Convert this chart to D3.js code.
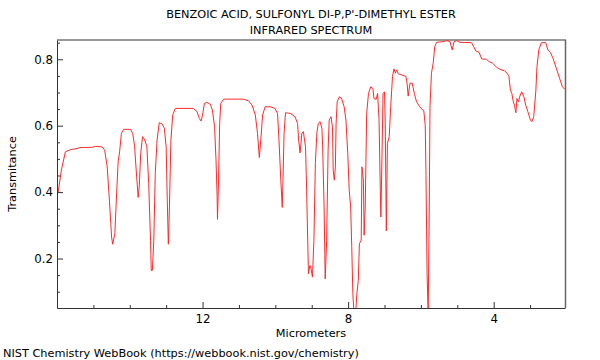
<!DOCTYPE html>
<html><head><meta charset="utf-8">
<script src="https://cdn.jsdelivr.net/npm/d3@7"></script>
<style>body{margin:0;background:#fff} text{font-family:"DejaVu Sans",sans-serif}</style>
</head><body><svg id="c" width="600" height="360"></svg>
<script>
const microns = [15.97,15.88,15.77,15.63,15.45,15.38,15.03,14.94,14.76,14.69,14.62,14.56,14.50,14.47,14.41,14.37,14.32,14.28,14.23,14.17,13.98,13.92,13.87,13.83,13.77,13.74,13.70,13.65,13.59,13.53,13.48,13.43,13.41,13.38,13.34,13.30,13.25,13.19,13.11,13.05,13.00,12.97,12.94,12.91,12.87,12.82,12.75,12.25,12.15,12.09,12.04,12.00,11.95,11.88,11.79,11.73,11.67,11.63,11.60,11.59,11.56,11.53,11.50,11.42,10.88,10.74,10.64,10.55,10.49,10.44,10.40,10.35,10.28,10.14,10.01,9.94,9.90,9.85,9.81,9.79,9.76,9.72,9.59,9.46,9.39,9.36,9.32,9.27,9.23,9.17,9.14,9.09,9.05,9.02,8.98,8.94,8.90,8.86,8.82,8.77,8.72,8.70,8.66,8.63,8.59,8.55,8.52,8.47,8.43,8.41,8.38,8.35,8.33,8.30,8.24,8.18,8.11,8.06,8.01,7.97,7.93,7.90,7.87,7.84,7.79,7.76,7.72,7.69,7.64,7.62,7.58,7.56,7.53,7.49,7.44,7.38,7.32,7.29,7.23,7.19,7.15,7.12,7.10,7.07,7.04,7.00,6.98,6.95,6.92,6.87,6.83,6.78,6.74,6.70,6.67,6.62,6.53,6.41,6.38,6.35,6.30,6.24,6.18,6.12,6.03,5.95,5.92,5.88,5.86,5.83,5.80,5.77,5.75,5.71,5.66,5.62,5.57,5.39,5.29,5.20,5.14,5.09,5.02,4.93,4.61,4.55,4.49,4.40,4.33,4.20,4.13,4.03,3.92,3.83,3.70,3.63,3.58,3.54,3.50,3.47,3.42,3.39,3.36,3.32,3.28,3.23,3.17,3.12,3.06,2.99,2.95,2.90,2.84,2.81,2.76,2.69,2.57,2.51,2.44,2.37,2.28,2.19,2.11,2.04];
const transmittance = [0.398,0.466,0.521,0.528,0.531,0.534,0.535,0.538,0.536,0.526,0.476,0.376,0.265,0.243,0.275,0.376,0.491,0.521,0.577,0.589,0.589,0.577,0.541,0.476,0.384,0.416,0.516,0.567,0.557,0.536,0.426,0.255,0.164,0.164,0.255,0.456,0.557,0.609,0.605,0.592,0.536,0.376,0.243,0.355,0.557,0.632,0.652,0.652,0.642,0.622,0.614,0.632,0.667,0.670,0.665,0.647,0.597,0.496,0.386,0.318,0.436,0.607,0.667,0.680,0.680,0.675,0.662,0.632,0.577,0.504,0.557,0.632,0.657,0.657,0.652,0.637,0.557,0.436,0.354,0.436,0.577,0.639,0.637,0.627,0.607,0.557,0.518,0.577,0.582,0.536,0.406,0.154,0.179,0.170,0.144,0.255,0.486,0.577,0.607,0.612,0.592,0.536,0.355,0.139,0.255,0.526,0.617,0.627,0.597,0.466,0.436,0.476,0.607,0.672,0.687,0.682,0.657,0.617,0.516,0.406,0.355,0.235,0.094,0.040,0.040,0.094,0.134,0.245,0.255,0.476,0.436,0.270,0.355,0.637,0.697,0.717,0.712,0.682,0.679,0.697,0.617,0.436,0.325,0.506,0.697,0.702,0.607,0.283,0.547,0.567,0.657,0.748,0.771,0.758,0.768,0.756,0.753,0.748,0.728,0.689,0.728,0.728,0.697,0.672,0.657,0.647,0.645,0.600,0.450,0.154,0.030,0.355,0.657,0.758,0.790,0.838,0.851,0.853,0.856,0.853,0.828,0.853,0.856,0.851,0.850,0.838,0.825,0.821,0.801,0.800,0.793,0.788,0.776,0.770,0.765,0.758,0.748,0.707,0.697,0.677,0.657,0.639,0.682,0.672,0.689,0.702,0.687,0.662,0.642,0.617,0.612,0.627,0.707,0.778,0.828,0.850,0.850,0.828,0.820,0.803,0.773,0.743,0.717,0.709];
const xMajorTicks = [12, 8, 4];
const xMinorTicks = [15, 14, 13, 11, 10, 9, 7, 6, 5, 3];
const yMajorTicks = [0.2, 0.4, 0.6, 0.8];
const yMinorTicks = [0.1, 0.15, 0.25, 0.3, 0.35, 0.45, 0.5, 0.55, 0.65, 0.7, 0.75, 0.85];
const titleLines = ["BENZOIC ACID, SULFONYL DI-P,P'-DIMETHYL ESTER", "INFRARED SPECTRUM"];
const xLabel = "Micrometers";
const yLabel = "Transmitance";
const credit = "NIST Chemistry WebBook (https://webbook.nist.gov/chemistry)";

const L = 57, R = 565, T = 40, B = 308;
const FS = 11.3;
const svg = d3.select("#c");
const x = d3.scaleLinear().domain([16, 2.04]).range([L, R]);
const y = d3.scaleLinear().domain([0.051, 0.858]).range([B, T]);

svg.append("defs").append("clipPath").attr("id", "clip")
  .append("rect").attr("x", L).attr("y", T).attr("width", R - L).attr("height", B - T);

// frame top/right
svg.append("line").attr("x1", L).attr("x2", R + 1).attr("y1", T).attr("y2", T)
  .attr("stroke", "#999").attr("stroke-width", 2);
svg.append("line").attr("x1", R + 0.5).attr("x2", R + 0.5).attr("y1", T).attr("y2", B)
  .attr("stroke", "#666").attr("stroke-width", 1.5);

const data = microns.map((m, i) => [m, transmittance[i]]);
svg.append("path").datum(data)
  .attr("clip-path", "url(#clip)")
  .attr("fill", "none").attr("stroke", "#ff2a2a").attr("stroke-width", 1)
  .attr("stroke-linejoin", "round")
  .attr("d", d3.line().x(d => x(d[0])).y(d => y(d[1])));

function styleAxis(g) {
  g.selectAll("path,line").attr("stroke", "#333");
  g.selectAll("text").attr("font-family", "DejaVu Sans").attr("font-size", 11.8).attr("fill", "#000");
}
const gxMinor = svg.append("g").attr("transform", `translate(0,${B})`)
  .call(d3.axisBottom(x).tickValues(xMinorTicks).tickSize(-3).tickFormat(""));
gxMinor.select(".domain").remove();
styleAxis(gxMinor);
const gx = svg.append("g").attr("transform", `translate(0,${B})`)
  .call(d3.axisBottom(x).tickValues(xMajorTicks).tickSize(-6).tickSizeOuter(0).tickFormat(d3.format("d")));
styleAxis(gx);
gx.selectAll("text").attr("dy", "0.71em").attr("y", 7);

const gyMinor = svg.append("g").attr("transform", `translate(${L},0)`)
  .call(d3.axisLeft(y).tickValues(yMinorTicks).tickSize(-3).tickFormat(""));
gyMinor.select(".domain").remove();
styleAxis(gyMinor);
const gy = svg.append("g").attr("transform", `translate(${L},0)`)
  .call(d3.axisLeft(y).tickValues(yMajorTicks).tickSize(-6).tickSizeOuter(0).tickFormat(d3.format(".1f")));
styleAxis(gy);
gy.selectAll("text").attr("x", -4);

svg.selectAll(".title").data(titleLines).enter().append("text")
  .attr("x", (L + R) / 2).attr("y", (d, i) => 18 + i * 16)
  .attr("text-anchor", "middle").attr("font-size", FS).text(d => d);
svg.append("text").attr("x", (L + R) / 2).attr("y", 337)
  .attr("text-anchor", "middle").attr("font-size", FS).text(xLabel);
svg.append("text").attr("transform", `translate(16,${(T + B) / 2}) rotate(-90)`)
  .attr("text-anchor", "middle").attr("font-size", FS).text(yLabel);
svg.append("text").attr("x", 3).attr("y", 357).attr("font-size", FS).text(credit);
</script></body></html>
